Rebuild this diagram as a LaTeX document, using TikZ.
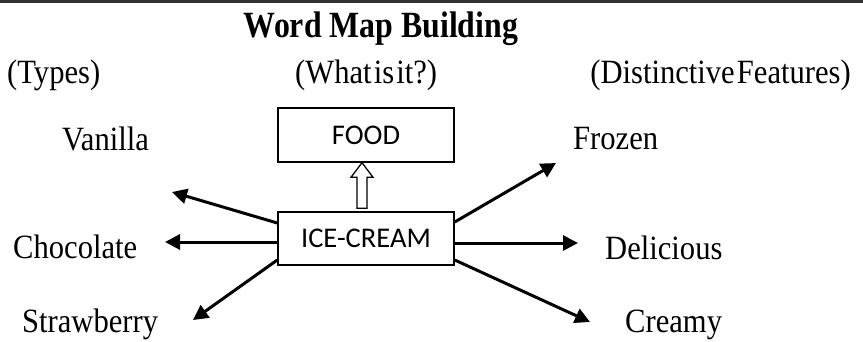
\documentclass[tikz,border=0pt]{standalone}
\usepackage{fontspec}
\setmainfont{Liberation Serif}
\newfontfamily\boxfont{Carlito}
\usetikzlibrary{arrows.meta,calc}
\newcommand{\sq}[1]{\scalebox{0.9}[1]{#1}}
\begin{document}
\begin{tikzpicture}[x=1pt,y=-1pt,
  lbl/.style={inner sep=0pt,anchor=base west,font=\fontsize{34}{36}\selectfont},
  hdr/.style={inner sep=0pt,anchor=base west,font=\fontsize{34}{36}\selectfont},
  wordbox/.style={draw,line width=1.5pt,minimum width=176pt,minimum height=53pt,inner sep=0pt,font=\boxfont\fontsize{28.5}{30}\selectfont},
  conn/.style={line width=3pt,-{Triangle[length=15pt,width=15pt]}},
  hollow/.style={draw,line width=1.3pt,fill=white}]
\useasboundingbox (0,0) rectangle (863,341);
\fill[black!80] (0,0) rectangle (863,2.5);
\node[inner sep=0pt,anchor=base,font=\bfseries\fontsize{37}{40}\selectfont] (title) at (381,37) {\scalebox{0.86}[1]{Word Map Building}};
\node[hdr] (types) at (7,83) {\sq{(Types)}};
\node[hdr] (what) at (295,83) {\sq{(What\hspace{0.07em}is\hspace{0.07em}it?)}};
\node[hdr,anchor=base east] (feat) at (851,83) {\sq{(Distinctive\hspace{0.07em}Features)}};
\node[wordbox,minimum height=54pt] (food) at (366,135) {FOOD};
\node[wordbox] (ice) at (366,238.5) {ICE-CREAM};
\node[lbl] (van) at (62,150) {\sq{Vanilla}};
\node[lbl] (choc) at (13,258) {\sq{Chocolate}};
\node[lbl] (straw) at (22,332) {\sq{Strawberry}};
\node[lbl] (froz) at (573,149) {\sq{Frozen}};
\node[lbl] (deli) at (605,259) {\sq{Delicious}};
\node[lbl] (cream) at (625,332) {\sq{Creamy}};
\coordinate (tvan) at (172,192);
\coordinate (tchoc) at (165,242);
\coordinate (tstraw) at (193,320);
\coordinate (tfroz) at (556,163);
\coordinate (tdeli) at (578,243);
\coordinate (tcream) at (590,322);
\draw[conn] ([yshift=15.5pt]ice.west) -- (tvan);
\draw[conn] ([yshift=-3.5pt]ice.west) -- (tchoc);
\draw[conn] ([yshift=-21.5pt]ice.west) -- (tstraw);
\draw[conn] ([yshift=16.5pt]ice.east) -- (tfroz);
\draw[conn] ([yshift=-4.5pt]ice.east) -- (tdeli);
\draw[conn] ([yshift=-21.5pt]ice.east) -- (tcream);
\draw[hollow] ($(ice.north)+(-9,-3)$) -- ++(0,-31) -- ++(-6,0) -- ($(food.south)+(-4,0)$) -- ($(ice.north)+(7,-34)$) -- ++(-6,0) -- ++(0,31) -- cycle;
\end{tikzpicture}
\end{document}
